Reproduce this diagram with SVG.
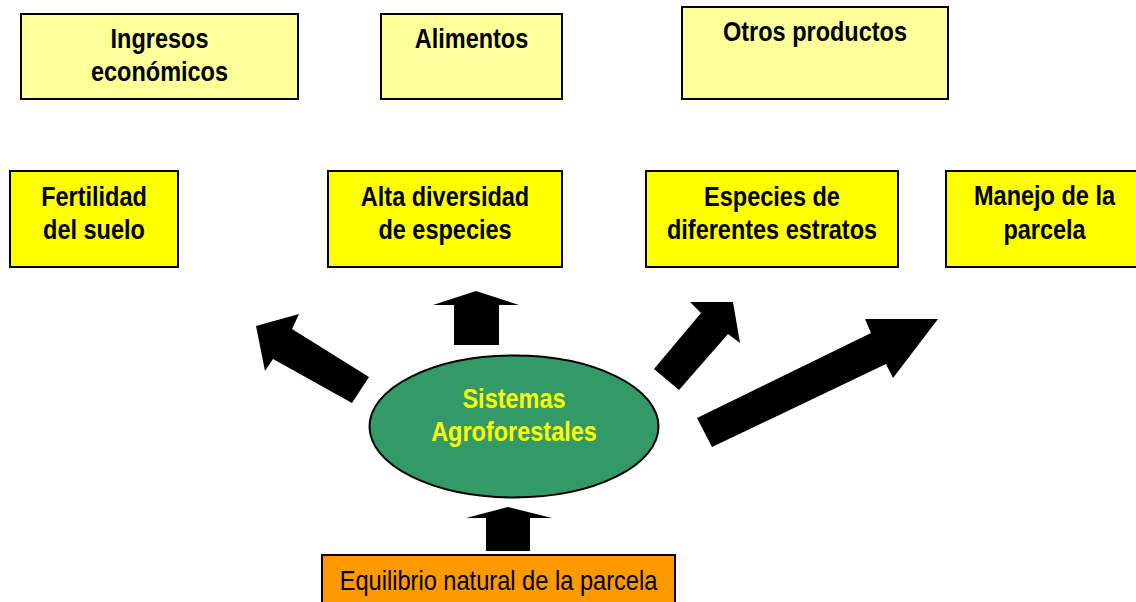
<svg xmlns="http://www.w3.org/2000/svg" width="1136" height="602" viewBox="0 0 1136 602">
<style>
.box{stroke:#000;stroke-width:2}
.top{fill:#FFFF99}
.mid{fill:#FFFF00}
.t{font-family:"Liberation Sans",Arial,sans-serif;font-size:27px;font-weight:bold;text-anchor:middle;fill:#000}
.y{fill:#FFFF00}
.r{font-weight:normal}
.arrow{fill:#000;stroke:none}
</style>
<rect width="1136" height="602" fill="#fff"/>
<g id="ingresos">
<rect class="box top" x="21" y="14" width="277" height="85"/>
<text class="t" transform="translate(159.5 0) scale(0.87 1)"><tspan x="0" y="48.5">Ingresos</tspan><tspan x="0" y="81.5">económicos</tspan></text>
</g>
<g id="alimentos">
<rect class="box top" x="381" y="14" width="181" height="85"/>
<text class="t" transform="translate(471.5 0) scale(0.87 1)"><tspan x="0" y="48.5">Alimentos</tspan></text>
</g>
<g id="otros">
<rect class="box top" x="682" y="7" width="266" height="92"/>
<text class="t" transform="translate(815 0) scale(0.87 1)"><tspan x="0" y="41.5">Otros productos</tspan></text>
</g>
<g id="fertilidad">
<rect class="box mid" x="10" y="171" width="168" height="96"/>
<text class="t" transform="translate(94 0) scale(0.87 1)"><tspan x="0" y="206.5">Fertilidad</tspan><tspan x="0" y="239">del suelo</tspan></text>
</g>
<g id="diversidad">
<rect class="box mid" x="328" y="171" width="234" height="96"/>
<text class="t" transform="translate(445 0) scale(0.87 1)"><tspan x="0" y="206.5">Alta diversidad</tspan><tspan x="0" y="239">de especies</tspan></text>
</g>
<g id="estratos">
<rect class="box mid" x="646" y="171" width="252" height="96"/>
<text class="t" transform="translate(772 0) scale(0.87 1)"><tspan x="0" y="206.5">Especies de</tspan><tspan x="0" y="239">diferentes estratos</tspan></text>
</g>
<g id="manejo">
<rect class="box mid" x="946" y="171" width="198" height="96"/>
<text class="t" transform="translate(1044.5 0) scale(0.87 1)"><tspan x="0" y="205.5">Manejo de la</tspan><tspan x="0" y="239.5">parcela</tspan></text>
</g>
<g id="sistemas">
<ellipse cx="514" cy="426.5" rx="144.5" ry="71" fill="#339966" stroke="#000" stroke-width="2"/>
<text class="t y" transform="translate(514 0) scale(0.87 1)"><tspan x="0" y="408">Sistemas</tspan><tspan x="0" y="441.5">Agroforestales</tspan></text>
</g>
<g id="equilibrio">
<rect class="box" x="322" y="555" width="353" height="52" fill="#FF9900"/>
<text class="t r" transform="translate(498.5 0) scale(0.875 1)"><tspan x="0" y="590">Equilibrio natural de la parcela</tspan></text>
</g>
<g id="connectors">
<polygon class="arrow" points="369,377 292,329 299,314 256,326 265,371 273,359 352,403"/>
<polygon class="arrow" points="454,345 454,305 433,305 476,291 519,305 499,305 499,345"/>
<polygon class="arrow" points="654,369 701,313 690,302 733,302 740,343 728,334 679,390"/>
<polygon class="arrow" points="697,418 871,333 865,319 938,319 893,378 886,364 712,447"/>
<polygon class="arrow" points="486,551 486,518 466,518 508,507 552,518 530,518 530,551"/>
</g>
</svg>
